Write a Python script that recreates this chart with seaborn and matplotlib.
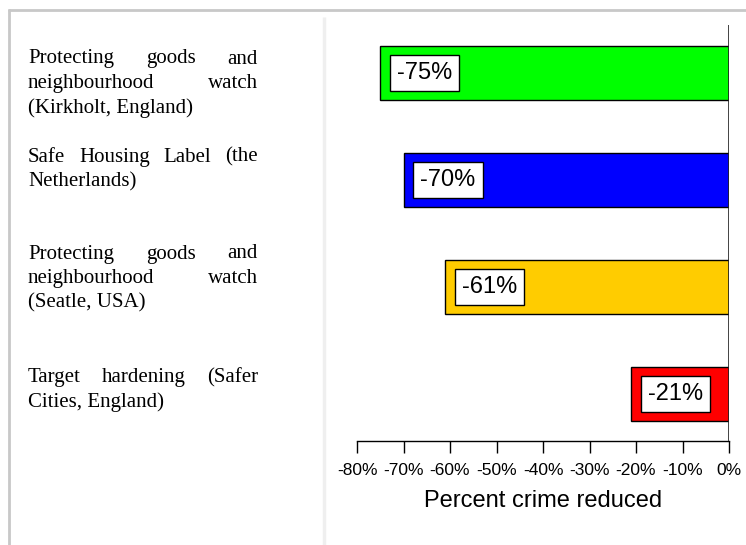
# horizontal bar chart of crime reduction per programme

import pandas as pd
import matplotlib
matplotlib.use("Agg")
import matplotlib.pyplot as plt
import seaborn as sns

# data
programmes = [
    "Protecting goods and neighbourhood watch (Kirkholt, England)",
    "Safe Housing Label (the Netherlands)",
    "Protecting goods and neighbourhood watch (Seatle, USA)",
    "Target hardening (Safer Cities, England)",
]
label_lines = [
    ["Protecting goods and", "neighbourhood watch", "(Kirkholt, England)"],
    ["Safe Housing Label (the", "Netherlands)"],
    ["Protecting goods and", "neighbourhood watch", "(Seatle, USA)"],
    ["Target hardening (Safer", "Cities, England)"],
]
reductions = [-75, -70, -61, -21]
bar_colors = ["#00FF00", "#0000FF", "#FFCC00", "#FF0000"]
x_ticks = [-80, -70, -60, -50, -40, -30, -20, -10, 0]

df = pd.DataFrame({"programme": programmes, "reduction": reductions})

sns.set_theme(style="white", rc={"text.color": "black", "axes.labelcolor": "black",
                                 "xtick.color": "black"})
plt.rcParams["font.family"] = ["Liberation Sans", "DejaVu Sans"]

W, H = 746, 545
fig = plt.figure(figsize=(W / 100, H / 100), dpi=100)

# overlay in pixel units for the frame and the left text column
bg = fig.add_axes([0, 0, 1, 1], zorder=0)
bg.set_xlim(0, W)
bg.set_ylim(H, 0)
bg.axis("off")
bg.plot([8, W], [9.5, 9.5], color="#c8c8c8", lw=2, solid_capstyle="butt")
bg.plot([9, 9], [9, H], color="#c8c8c8", lw=2, solid_capstyle="butt")
bg.plot([324, 324], [17, H], color="#efefef", lw=2.5, solid_capstyle="butt")

# main chart
ax = fig.add_axes([357 / W, 1 - 441 / H, (729 - 357) / W, (441 - 25) / H], zorder=1)
ax.patch.set_alpha(0)
sns.barplot(
    data=df,
    x="reduction",
    y="programme",
    hue="programme",
    palette=bar_colors,
    saturation=1,
    orient="h",
    width=0.51,
    edgecolor="black",
    linewidth=1,
    legend=False,
    ax=ax,
)
ax.set_xlim(-80, 0)
ax.set_ylim(3.44, -0.45)
ax.axvline(0, color="#222222", lw=1.2, zorder=3)
ax.set_yticks([])
ax.set_ylabel("")
ax.set_xticks(x_ticks)
ax.set_xticklabels([f"{t}%" for t in x_ticks], fontsize=12.5)
ax.tick_params(axis="x", direction="out", length=8.5, width=1, pad=7,
               color="black", bottom=True)
ax.set_xlabel("Percent crime reduced", fontsize=17, labelpad=9)
for side in ["top", "left", "right"]:
    ax.spines[side].set_visible(False)
ax.spines["bottom"].set_color("black")
ax.spines["bottom"].set_linewidth(1)

# value boxes inside the bars
for i, v in enumerate(reductions):
    ax.annotate(
        f"{v}%",
        xy=(v, i),
        xytext=(12, 0),
        textcoords="offset points",
        ha="left",
        va="center",
        fontsize=17,
        color="black",
        bbox=dict(boxstyle="square,pad=0.3", fc="white", ec="black", lw=1),
        zorder=4,
    )

# justified serif labels on the left
fig.canvas.draw()
renderer = fig.canvas.get_renderer()
x0, x1 = 28, 258
first_baselines = [63.5, 161.7, 258.5, 382]
step = 24.5
serif = dict(fontsize=15, family="Liberation Serif", color="black", va="baseline")
for lines, base in zip(label_lines, first_baselines):
    for k, line in enumerate(lines):
        yy = base + k * step
        words = line.split()
        if k == len(lines) - 1 or len(words) == 1:
            bg.text(x0, yy, line, ha="left", **serif)
            continue
        texts = [bg.text(0, yy, w, ha="left", **serif) for w in words]
        widths = [t.get_window_extent(renderer).width for t in texts]
        gap = (x1 - x0 - sum(widths)) / (len(words) - 1)
        x = x0
        for t, w in zip(texts, widths):
            t.set_x(x)
            x += w + gap

fig.savefig("out.png", dpi=100)
